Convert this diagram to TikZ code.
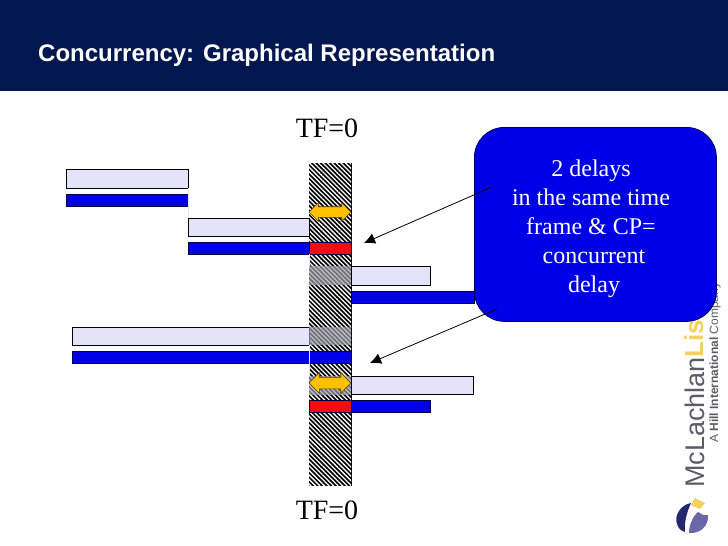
\documentclass[tikz,border=0pt]{standalone}
\usepackage{xcolor}
\usepackage{fontspec}
\setmainfont{Liberation Serif}
\setsansfont{Liberation Sans}
\usepackage{tikz}
\usetikzlibrary{positioning, arrows.meta, patterns.meta, shapes.arrows}

\definecolor{headnavy}{HTML}{02174F}
\definecolor{barlight}{HTML}{E3E3FA}
\definecolor{barblue}{HTML}{0000E6}
\definecolor{barred}{HTML}{F00F0F}
\definecolor{floatorange}{HTML}{FFC000}
\definecolor{overgrey}{HTML}{A0A0AC}
\definecolor{logonavy}{HTML}{25276F}
\definecolor{logopurple}{HTML}{6A68A8}
\definecolor{logoyellow}{HTML}{F2D25A}
\definecolor{logogrey}{HTML}{5A5C66}

\tikzset{
    planbar/.style={draw=black, line width=.8pt, fill=barlight, anchor=north west, inner sep=0, outer sep=0, minimum height=19pt},
    actualbar/.style={draw=black!70!barblue, line width=.5pt, fill=barblue, anchor=north west, inner sep=0, outer sep=0, minimum height=12pt},
    critbar/.style={actualbar, fill=barred, minimum width=42pt},
    overlap/.style={fill=overgrey, fill opacity=.7, anchor=north west, inner sep=0, outer sep=0, minimum width=42pt, minimum height=19pt},
    floatarrow/.style={draw=black!70!floatorange, line width=.6pt, fill=floatorange, double arrow, inner sep=0, outer sep=0, text height=5pt, text depth=5pt, minimum height=42pt, double arrow head extend=4pt},
    tflabel/.style={font=\fontsize{28}{30}\selectfont, inner sep=0, xshift=-3pt},
    pointer/.style={-{Latex[length=11pt,width=11pt]}, line width=.8pt, black},
    faintlink/.style={barlight, line width=1pt}
}

\begin{document}
\begin{tikzpicture}[x=1pt, y=-1pt]
        \useasboundingbox (0,0) rectangle (728,546);
        \fill[headnavy] (0,0) rectangle (728,91);
        \node[anchor=base west, inner sep=0, text=white, font=\sffamily\bfseries\fontsize{24}{26}\selectfont] (title) at (38,61) {Concurrency: Graphical Representation};

        % logo
        \node[rotate=90, anchor=base west, inner sep=0, text=logogrey, font=\sffamily\fontsize{27}{27}\selectfont] (mcl) at (704,488) {McLachlan};
        \node[rotate=90, anchor=base west, inner sep=0, text=logoyellow, font=\sffamily\bfseries\fontsize{26}{26}\selectfont] (lis) at (703,358) {Lis};
        \node[rotate=90, anchor=base west, inner sep=0, text=logogrey, font=\sffamily\fontsize{12}{13}\selectfont] (hill) at (718,443) {A \textbf{Hill International} Company};
        \fill[logonavy] (691,503) .. controls (680,505) and (674,516) .. (677,524) .. controls (678,528) and (681,531) .. (685,532) .. controls (684,522) and (687,512) .. (691,503);
        \fill[logopurple] (698,512) .. controls (693,516) and (689,525) .. (689,533) .. controls (700,534) and (709,526) .. (708,515) .. controls (704,516) and (701,514) .. (698,512);
        \fill[logoyellow] (695,498) -- (705,503) -- (700,509) -- (691,505) -- cycle;

        % float column
        \node[draw=black, line width=.6pt, fill=black, postaction={pattern={Lines[angle=-45, distance=3.2pt, line width=1.3pt]}, pattern color=white}, inner sep=0, outer sep=0, minimum width=42pt, minimum height=322pt, anchor=north west] (column) at (309,163) {};
        \node[tflabel, above=26pt of column.north, anchor=base] (tftop) {TF=0};
        \node[tflabel, below=34pt of column.south, anchor=base] (tfbottom) {TF=0};

        % activities
        \node[planbar, minimum width=122pt] (plana) at (66,169) {};
        \node[actualbar, minimum width=122pt, below right=6pt and 0pt of plana.south west] (actuala) {};
        \node[planbar, minimum width=121pt, minimum height=18pt] (planb) at (188,218) {};
        \node[actualbar, minimum width=121pt, below right=6pt and 0pt of planb.south west] (actualb) {};
        \node[critbar, right=0pt of actualb.north east, anchor=north west] (critb) {};
        \node[overlap] (overc) at (309,266) {};
        \node[planbar, minimum width=79pt, right=0pt of overc.north east, anchor=north west] (planc) {};
        \node[actualbar, minimum width=123pt] (actualc) at (351,291) {};
        \node[planbar, minimum width=237pt, minimum height=18pt] (pland) at (72,327) {};
        \node[overlap, minimum height=18pt, right=0pt of pland.north east, anchor=north west] (overd) {};
        \node[actualbar, minimum width=279pt] (actuald) at (72,351) {};
        \node[overlap] (overe) at (309,376) {};
        \node[planbar, minimum width=122pt, minimum height=18pt, right=0pt of overe.north east, anchor=north west] (plane) {};
        \node[critbar] (crite) at (309,400) {};
        \node[actualbar, minimum width=79pt, right=0pt of crite.north east, anchor=north west] (actuale) {};

        \path[faintlink]
        (plana.south east) edge (planb.north west)
        (actualb.south east) edge (overc.north west)
        (overd.south west) edge (overe.north west);

        % floats
        \node[floatarrow] (floata) at (330,212) {};
        \node[floatarrow, text height=5.5pt, text depth=5.5pt, double arrow head extend=4.5pt] (floatb) at (330,383) {};

        % note
        \node[draw=black!60!barblue, line width=.8pt, fill=barblue, rounded corners=30pt, anchor=north west, minimum width=242pt, minimum height=194pt, inner sep=0] (note) at (474,127) {};
        \node[text=white, align=center, font=\fontsize{24}{29}\selectfont, inner sep=0, anchor=center] (notetext) at (591,229) {2 delays\\in the same time\\frame \& CP=\\~concurrent\\~delay};
        \coordinate (from1) at (492,187);
        \coordinate (to1) at (364,243);
        \coordinate (from2) at (497,309);
        \coordinate (to2) at (370,363);
        \draw[pointer] (from1) -- (to1);
        \draw[pointer] (from2) -- (to2);
    \end{tikzpicture}
\end{document}
